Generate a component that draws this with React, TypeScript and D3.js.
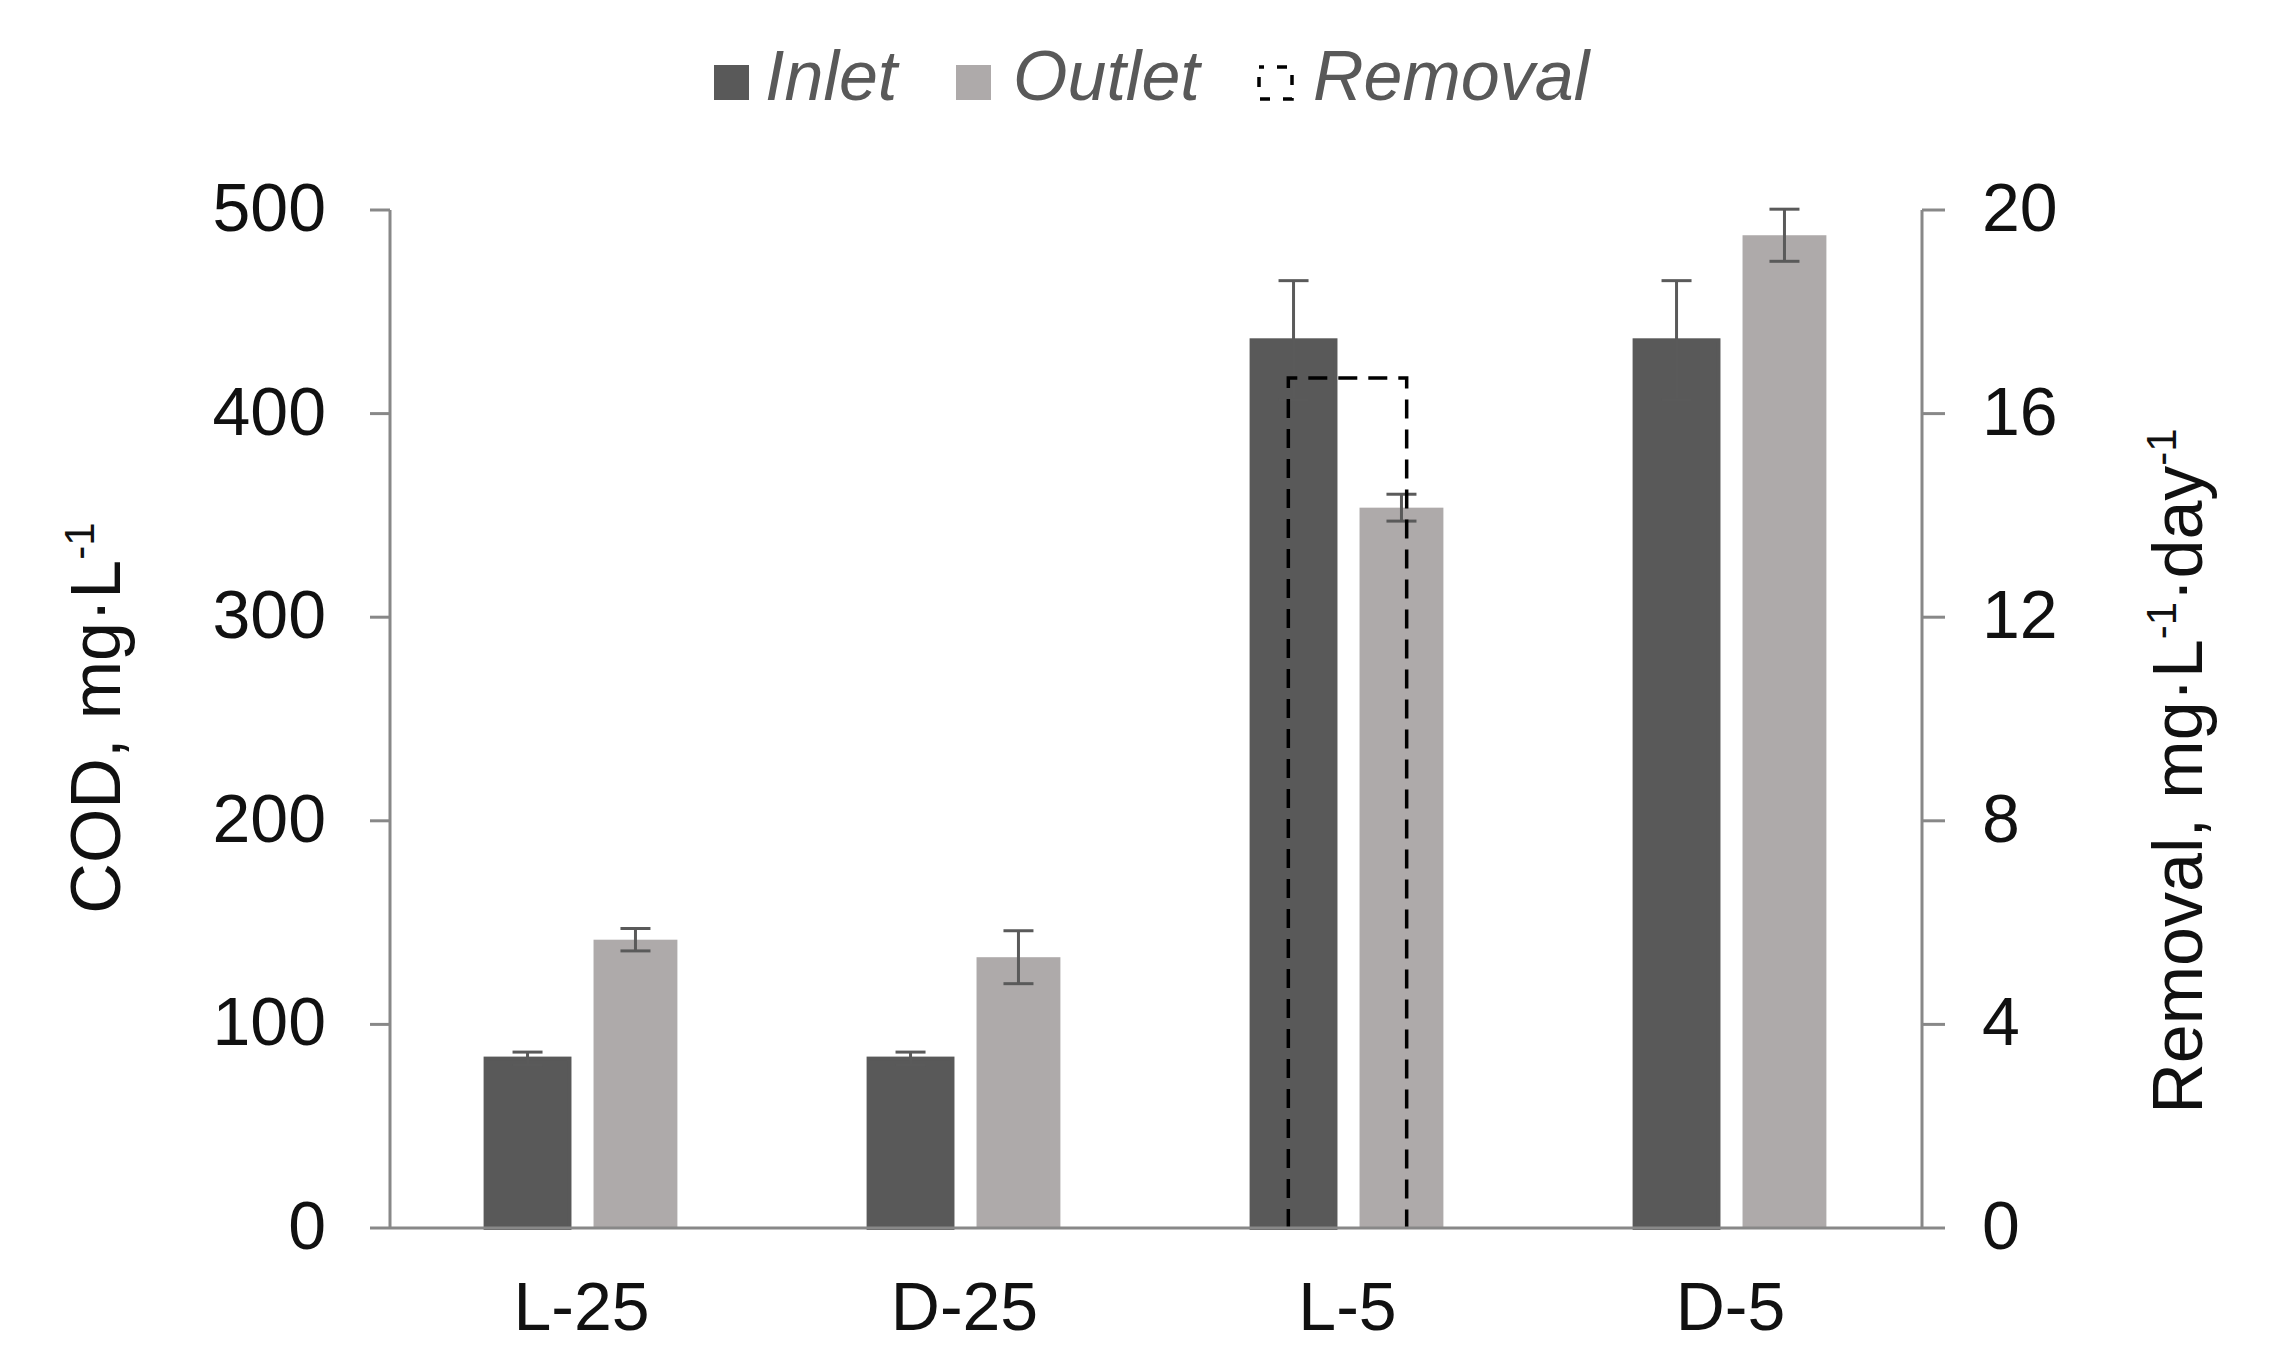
import React from "react";
import * as d3 from "d3";

const categories = ["L-25", "D-25", "L-5", "D-5"];
const inletValues = [83.2, 83.2, 436, 436];
const inletErrors = [3.2, 3.2, 29.3, 29.3];
const outletValues = [141.6, 133.0, 353.8, 487.6];
const outletErrors = [5.5, 13.0, 6.6, 12.8];
const removalValues: (number | null)[] = [null, null, 16.7, null];
const leftTicks = [0, 100, 200, 300, 400, 500];
const rightTicks = [0, 4, 8, 12, 16, 20];

const W = 2270;
const H = 1370;
const M = { left: 390, right: 1922, top: 210, bottom: 1228 };
const FONT = "'Liberation Sans', Arial, Helvetica, sans-serif";
const INLET = "#595959";
const OUTLET = "#AEAAAA";
const AXIS = "#888888";
const ERR = "#5a5a5a";

export default function App() {
  const x = d3.scaleBand<string>().domain(categories).range([M.left, M.right]).padding(0);
  const yL = d3.scaleLinear().domain([0, 500]).range([M.bottom, M.top]);
  const yR = d3.scaleLinear().domain([0, 20]).range([M.bottom, M.top]);
  const bw = x.bandwidth();
  const barW = bw * 0.219;
  const off = bw * 0.1409;
  const capW = 30;
  const remW = bw * 0.309;

  const center = (c: string) => (x(c) as number) + bw / 2;

  const errBar = (cx: number, v: number, e: number, key: string) => (
    <g key={key} stroke={ERR} strokeWidth={3}>
      <line x1={cx} x2={cx} y1={yL(v + e)} y2={yL(v - e)} />
      <line x1={cx - capW / 2} x2={cx + capW / 2} y1={yL(v + e)} y2={yL(v + e)} />
      <line x1={cx - capW / 2} x2={cx + capW / 2} y1={yL(v - e)} y2={yL(v - e)} />
    </g>
  );

  return (
    <svg width={W} height={H} style={{ position: "absolute", left: 0, top: 0, background: "#fff" }} fontFamily={FONT}>
      <rect x={0} y={0} width={W} height={H} fill="#fff" />
      {/* Legend */}
      <g fontSize={70} fontStyle="italic" fill="#595959">
        <rect x={714} y={65} width={35} height={35} fill={INLET} />
        <text x={765} y={100}>Inlet</text>
        <rect x={956} y={65} width={35} height={35} fill={OUTLET} />
        <text x={1013} y={100}>Outlet</text>
        <rect x={1259} y={67} width={33} height={32} fill="#fff" stroke="#000" strokeWidth={3.5} strokeDasharray="10 13" strokeDashoffset={5} />
        <text x={1313} y={100}>Removal</text>
      </g>

      {/* Bars */}
      {categories.map((c, i) => {
        const cx = center(c);
        return (
          <g key={c}>
            <rect x={cx - off - barW / 2} y={yL(inletValues[i])} width={barW} height={M.bottom - yL(inletValues[i])} fill={INLET} stroke={INLET} strokeWidth={4} />
            <rect x={cx + off - barW / 2} y={yL(outletValues[i])} width={barW} height={M.bottom - yL(outletValues[i])} fill={OUTLET} />
          </g>
        );
      })}
      {categories.map((c, i) => errBar(center(c) - off, inletValues[i], inletErrors[i], "ei" + c))}
      {categories.map((c, i) => errBar(center(c) + off, outletValues[i], outletErrors[i], "eo" + c))}

      {/* Removal dashed outline */}
      {categories.map((c, i) => {
        const v = removalValues[i];
        if (v == null) return null;
        const cx = center(c);
        const x0 = cx - remW / 2;
        const x1 = cx + remW / 2;
        const path = d3.path();
        path.moveTo(x0, yR(0));
        path.lineTo(x0, yR(v));
        path.lineTo(x1, yR(v));
        path.lineTo(x1, yR(0));
        return <path key={"r" + c} d={path.toString()} fill="none" stroke="#000" strokeWidth={3.5} strokeDasharray="19 11" />;
      })}

      {/* Axes */}
      <g stroke={AXIS} strokeWidth={3}>
        <line x1={M.left} x2={M.left} y1={M.top} y2={M.bottom} />
        <line x1={M.right} x2={M.right} y1={M.top} y2={M.bottom} />
        <line x1={M.left} x2={M.right} y1={M.bottom} y2={M.bottom} />
        {leftTicks.map((t) => (
          <line key={"lt" + t} x1={M.left - 20} x2={M.left} y1={yL(t)} y2={yL(t)} />
        ))}
        {rightTicks.map((t) => (
          <line key={"rt" + t} x1={M.right} x2={M.right + 23} y1={yR(t)} y2={yR(t)} />
        ))}
      </g>
      <g fontSize={68} fill="#111">
        {leftTicks.map((t) => (
          <text key={"ll" + t} x={326} y={yL(t) + 21} textAnchor="end">{t}</text>
        ))}
        {rightTicks.map((t) => (
          <text key={"rl" + t} x={1982} y={yR(t) + 21} textAnchor="start">{t}</text>
        ))}
        {categories.map((c) => (
          <text key={"xl" + c} x={center(c)} y={1330} textAnchor="middle">{c}</text>
        ))}
      </g>

      {/* Axis titles */}
      <text transform="translate(120,718) rotate(-90)" textAnchor="middle" fontSize={70} fill="#111">
        COD, mg·L<tspan fontSize={42} dy={-26}>-1</tspan>
      </text>
      <text transform="translate(2202,771) rotate(-90)" textAnchor="middle" fontSize={70} fill="#111">
        Removal,  mg·L<tspan fontSize={42} dy={-26}>-1</tspan><tspan dy={26}>·day</tspan><tspan fontSize={42} dy={-26}>-1</tspan>
      </text>
    </svg>
  );
}
